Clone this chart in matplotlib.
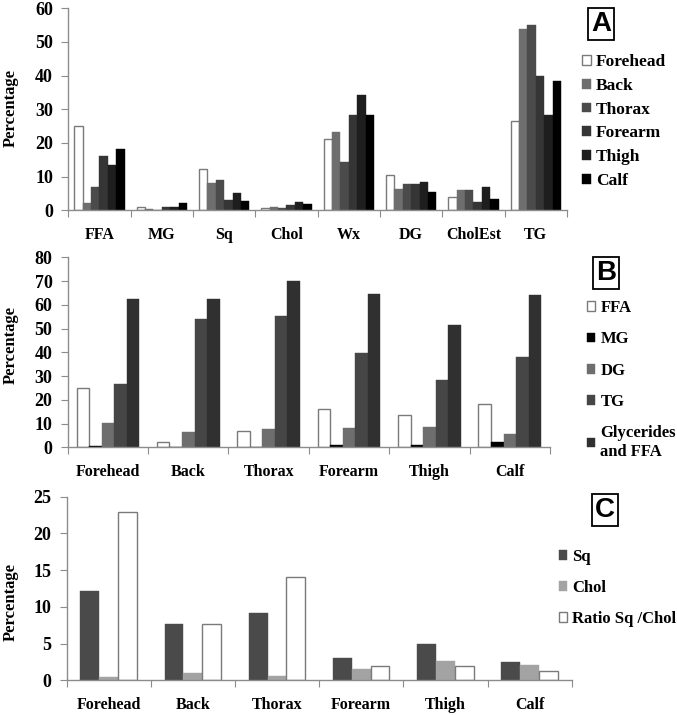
import numpy as np
import matplotlib
matplotlib.use('Agg')
import matplotlib.pyplot as plt

# panel A: lipid class x body site
lipids_a = ['FFA', 'MG', 'Sq', 'Chol', 'Wx', 'DG', 'CholEst', 'TG']
sites_a = ['Forehead', 'Back', 'Thorax', 'Forearm', 'Thigh', 'Calf']
forehead_a = [25.0, 0.9, 12.2, 0.6, 21.1, 10.4, 3.9, 26.4]
back_a = [2.3, 0.4, 8.0, 1.0, 23.2, 6.4, 5.9, 53.9]
thorax_a = [6.8, 0.1, 9.0, 0.6, 14.3, 7.7, 5.9, 55.0]
forearm_a = [16.1, 0.9, 3.0, 1.6, 28.4, 7.7, 2.5, 39.8]
thigh_a = [13.6, 0.9, 5.0, 2.6, 34.3, 8.4, 7.0, 28.2]
calf_a = [18.2, 2.1, 2.7, 2.0, 28.4, 5.5, 3.3, 38.3]

# panel B: glycerides per site
sites = ['Forehead', 'Back', 'Thorax', 'Forearm', 'Thigh', 'Calf']
ffa_b = [24.8, 2.2, 7.0, 16.1, 13.6, 18.4]
mg_b = [0.6, 0.0, 0.0, 0.8, 0.8, 2.1]
dg_b = [10.2, 6.5, 7.7, 8.0, 8.4, 5.8]
tg_b = [26.5, 53.9, 55.3, 39.9, 28.2, 38.2]
glyc_b = [62.3, 62.3, 70.2, 64.6, 51.3, 64.0]

# panel C: squalene / cholesterol
sq_c = [12.1, 7.7, 9.1, 3.0, 4.95, 2.54]
chol_c = [0.45, 1.0, 0.55, 1.6, 2.6, 2.13]
ratio_c = [22.9, 7.7, 14.1, 1.9, 1.95, 1.27]

W, H = 677, 715
serif = 'Liberation Serif'
fig = plt.figure(figsize=(W / 100, H / 100), dpi=100)
plt.rcParams['font.family'] = serif
plt.rcParams['font.weight'] = 'bold'

AXC = '#8c8c8c'


def px_axes(x0, x1, ytop, ybot):
    return fig.add_axes([x0 / W, 1 - ybot / H, (x1 - x0) / W, (ybot - ytop) / H])


def style(ax, ncat, ymax, step, labels):
    ax.set_xlim(0, ncat)
    ax.set_ylim(0, ymax)
    for s in ['top', 'right']:
        ax.spines[s].set_visible(False)
    for s in ['left', 'bottom']:
        ax.spines[s].set_color(AXC)
        ax.spines[s].set_linewidth(1.0)
    ax.set_yticks(np.arange(0, ymax + 0.1, step))
    ax.set_xticks(np.arange(ncat + 1))
    ax.set_xticklabels([])
    ax.set_xticks(np.arange(ncat) + 0.5, minor=True)
    ax.set_xticklabels(labels, minor=True)
    ax.tick_params(axis='x', which='major', length=5, color=AXC, direction='out')
    ax.tick_params(axis='x', which='minor', length=0, pad=12, labelsize=11.5)
    ax.tick_params(axis='y', length=5, color=AXC, labelsize=13, pad=6)
    for t in ax.get_xticklabels(minor=True) + ax.get_yticklabels():
        t.set_fontweight('bold')


def grouped(ax, series, colors, frac):
    n = len(series)
    bw = frac / n
    x = np.arange(len(series[0])) + 0.5
    handles = []
    for i, (vals, c) in enumerate(zip(series, colors)):
        ec = '#7a7a7a' if c == 'white' else c
        b = ax.bar(x - frac / 2 + bw * (i + 0.5), vals, bw, color=c,
                   edgecolor=ec, linewidth=1.0 if c == 'white' else 0.3)
        handles.append(b)
    return handles


def boxlabel(x, y, s):
    fig.text(x / W, 1 - y / H, s, family='Liberation Sans', fontsize=20,
             fontweight='bold', ha='center', va='center',
             bbox=dict(boxstyle='square,pad=0.12', fc='white', ec='black', lw=1.3))


def legend(handles, labels, x, ytop, spacing, size=11.5):
    fig.legend(handles, labels, loc='upper left', bbox_to_anchor=(x / W, 1 - ytop / H),
               frameon=False, handlelength=0.5, handleheight=0.5, handletextpad=0.3,
               labelspacing=spacing, borderpad=0, borderaxespad=0,
               prop={'family': serif, 'weight': 'bold', 'size': size})


def ylab(y, text='Percentage'):
    fig.text(11 / W, 1 - y / H, text, rotation=90, ha='center', va='center',
             fontsize=12, fontweight='bold')


# ---- A
axA = px_axes(68.3, 567, 8.3, 210.3)
colsA = ['white', '#6e6e6e', '#4b4b4b', '#353535', '#1e1e1e', '#000000']
hA = grouped(axA, [forehead_a, back_a, thorax_a, forearm_a, thigh_a, calf_a], colsA, 0.81)
style(axA, 8, 60, 10, lipids_a)
ylab(108)
boxlabel(601, 24, 'A')
legend(hA, sites_a, 582, 54, 0.45, size=12.5)

# ---- B
axB = px_axes(67.7, 550, 257.3, 447.3)
colsB = ['white', '#000000', '#6e6e6e', '#464646', '#303030']
hB = grouped(axB, [ffa_b, mg_b, dg_b, tg_b, glyc_b], colsB, 0.78)
style(axB, 6, 80, 10, sites)
ylab(345)
boxlabel(606, 273, 'B')
legend(hB, ['FFA', 'MG', 'DG', 'TG', 'Glycerides\nand FFA'], 587, 300, 0.92, size=12)

# ---- C
axC = px_axes(66.5, 571.7, 496.7, 680.3)
colsC = ['#4a4a4a', '#a3a3a3', 'white']
hC = grouped(axC, [sq_c, chol_c, ratio_c], colsC, 0.67)
style(axC, 6, 25, 5, sites)
ylab(602)
boxlabel(605, 510, 'C')
legend(hC, ['Sq', 'Chol', 'Ratio Sq /Chol'], 559, 549, 0.9, size=12)

fig.savefig('out.png', dpi=100)
